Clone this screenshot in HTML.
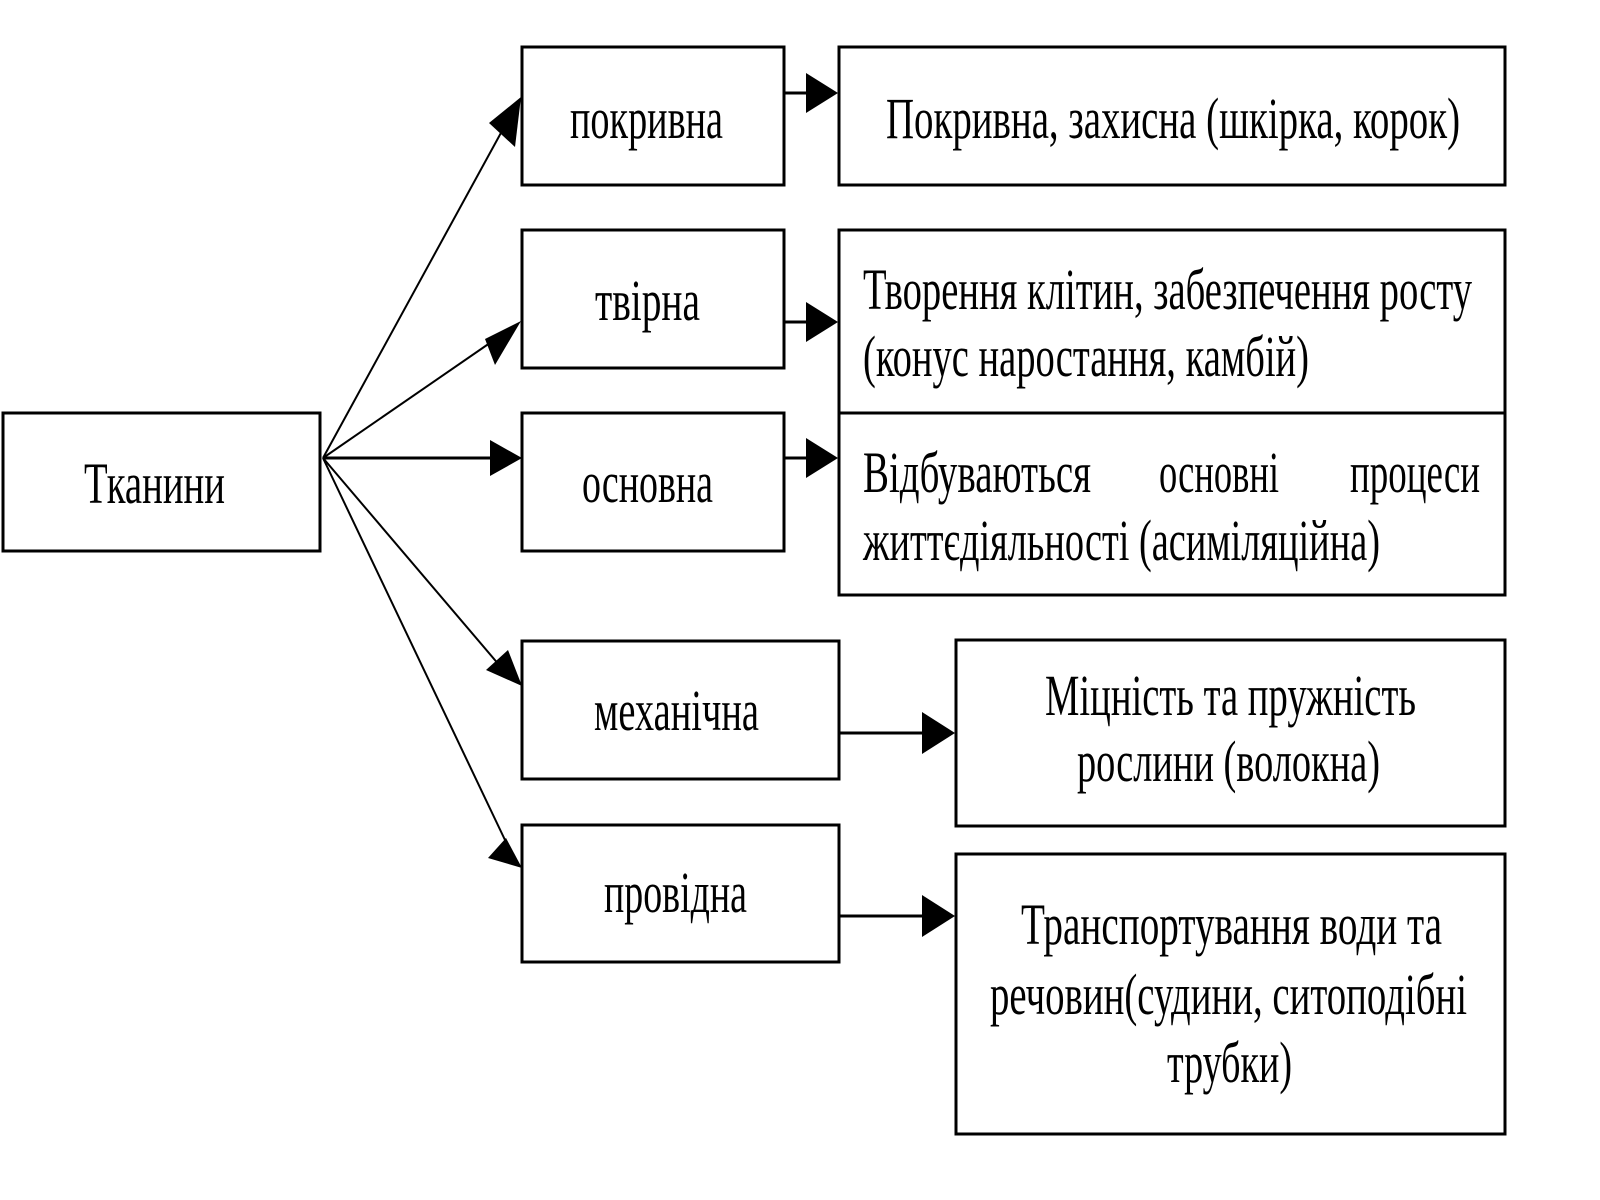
<!DOCTYPE html>
<html><head><meta charset="utf-8"><style>body{margin:0;background:#fff}svg{display:block}</style></head><body>
<svg width="1600" height="1200" viewBox="0 0 1600 1200" xmlns="http://www.w3.org/2000/svg">
<g fill="#fff" stroke="#000" stroke-width="3">
<rect x="3" y="413" width="317" height="138"/>
<rect x="522" y="47" width="262" height="138"/>
<rect x="522" y="230" width="262" height="138"/>
<rect x="522" y="413" width="262" height="138"/>
<rect x="522" y="641" width="317" height="138"/>
<rect x="522" y="825" width="317" height="137"/>
<rect x="839" y="47" width="666" height="138"/>
<rect x="839" y="230" width="666" height="183"/>
<rect x="839" y="413" width="666" height="182"/>
<rect x="956" y="640" width="549" height="186"/>
<rect x="956" y="854" width="549" height="280"/>
</g>
<g stroke="#000" stroke-width="2" fill="none">
<line x1="323" y1="458" x2="508" y2="120"/>
<line x1="323" y1="458" x2="500" y2="336"/>
<line x1="323" y1="458" x2="495" y2="458" stroke-width="3"/>
<line x1="323" y1="458" x2="500" y2="666"/>
<line x1="323" y1="458" x2="505" y2="840"/>
<line x1="784" y1="93" x2="810" y2="93" stroke-width="3"/>
<line x1="784" y1="322" x2="810" y2="322" stroke-width="3"/>
<line x1="784" y1="458" x2="810" y2="458" stroke-width="3"/>
<line x1="839" y1="733" x2="925" y2="733" stroke-width="3"/>
<line x1="839" y1="916" x2="925" y2="916" stroke-width="3"/>
</g>
<g fill="#000">
<polygon points="521,97 515,147 489,123"/>
<polygon points="521,321 495,365 485,339"/>
<polygon points="522,458 490,440 490,476"/>
<polygon points="522,686 486,670 508,650"/>
<polygon points="522,868 488,858 506,838"/>
<polygon points="838,93 806,73 806,113"/>
<polygon points="838,322 806,302 806,342"/>
<polygon points="838,458 806,438 806,478"/>
<polygon points="955,733 922,712 922,754"/>
<polygon points="955,916 922,895 922,937"/>
</g>
<g font-family="'Liberation Serif','DejaVu Serif',serif" font-size="58" fill="#000" lengthAdjust="spacingAndGlyphs">
<text x="84" y="503" textLength="141" lengthAdjust="spacingAndGlyphs">Тканини</text>
<text x="570" y="138" textLength="153" lengthAdjust="spacingAndGlyphs">покривна</text>
<text x="886" y="138" textLength="574" lengthAdjust="spacingAndGlyphs">Покривна, захисна (шкірка, корок)</text>
<text x="595" y="320" textLength="105" lengthAdjust="spacingAndGlyphs">твірна</text>
<text x="863" y="309" textLength="609" lengthAdjust="spacingAndGlyphs">Творення клітин, забезпечення росту</text>
<text x="863" y="376" textLength="446" lengthAdjust="spacingAndGlyphs">(конус наростання, камбій)</text>
<text x="582" y="502" textLength="131" lengthAdjust="spacingAndGlyphs">основна</text>
<text x="863" y="492" textLength="228" lengthAdjust="spacingAndGlyphs">Відбуваються</text>
<text x="1159" y="492" textLength="120" lengthAdjust="spacingAndGlyphs">основні</text>
<text x="1350" y="492" textLength="130" lengthAdjust="spacingAndGlyphs">процеси</text>
<text x="863" y="560" textLength="517" lengthAdjust="spacingAndGlyphs">життєдіяльності (асиміляційна)</text>
<text x="594" y="730" textLength="165" lengthAdjust="spacingAndGlyphs">механічна</text>
<text x="1045" y="715" textLength="371" lengthAdjust="spacingAndGlyphs">Міцність та пружність</text>
<text x="1077" y="781" textLength="303" lengthAdjust="spacingAndGlyphs">рослини (волокна)</text>
<text x="604" y="912" textLength="143" lengthAdjust="spacingAndGlyphs">провідна</text>
<text x="1021" y="944" textLength="421" lengthAdjust="spacingAndGlyphs">Транспортування води та</text>
<text x="990" y="1014" textLength="477" lengthAdjust="spacingAndGlyphs">речовин(судини, ситоподібні</text>
<text x="1167" y="1082" textLength="125" lengthAdjust="spacingAndGlyphs">трубки)</text>
</g>
</svg>
</body></html>
